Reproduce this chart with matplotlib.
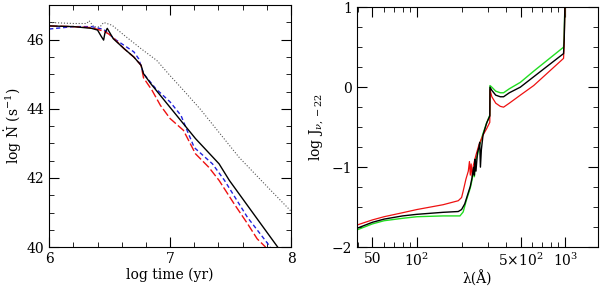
import numpy as np
import matplotlib
matplotlib.use("Agg")
import matplotlib.pyplot as plt
from matplotlib.ticker import MultipleLocator, FixedLocator, NullFormatter

plt.rcParams['font.family'] = ['DejaVu Serif']
plt.rcParams['mathtext.fontset'] = 'dejavuserif'

# left panel: log N-dot vs log time
t_dot = [6.0, 6.2, 6.31, 6.33, 6.37, 6.42, 6.45, 6.52, 6.62, 6.76, 6.89, 7.0, 7.11, 7.25, 7.57, 7.8, 8.0]
n_dot = [46.5, 46.47, 46.47, 46.55, 46.37, 46.37, 46.5, 46.42, 46.13, 45.74, 45.4, 44.96, 44.54, 43.99,
         42.6, 41.76, 41.04]

t_blk = [6.0, 6.2, 6.35, 6.4, 6.43, 6.45, 6.46, 6.48, 6.53, 6.62, 6.70, 6.76, 6.78, 6.84,
         7.21, 7.405, 7.49, 7.67, 7.89]
n_blk = [46.4, 46.38, 46.33, 46.28, 46.1, 45.99, 46.18, 46.33, 46.03, 45.74, 45.5, 45.26, 45.02, 44.73,
         43.14, 42.41, 41.93, 41.06, 40.0]

t_blu = [6.0, 6.2, 6.35, 6.45, 6.55, 6.64, 6.70, 6.74, 6.78, 6.88, 7.0, 7.09, 7.14, 7.2, 7.35, 7.45,
         7.64, 7.83]
n_blu = [46.31, 46.38, 46.38, 46.3, 46.0, 45.79, 45.65, 45.45, 45.02, 44.59, 44.2, 43.81, 43.38, 42.88,
         42.41, 41.93, 40.86, 40.0]

t_red = [6.0, 6.2, 6.35, 6.45, 6.5, 6.56, 6.62, 6.7, 6.76, 6.78, 6.85, 6.92, 7.0, 7.11, 7.21, 7.32, 7.405,
         7.53, 7.64, 7.72, 7.79]
n_red = [46.4, 46.38, 46.35, 46.25, 46.15, 45.95, 45.74, 45.5, 45.26, 44.9, 44.54, 44.1, 43.72, 43.38,
         42.7, 42.31, 41.93, 41.25, 40.68, 40.24, 40.0]

# right panel: log J_nu vs wavelength (Angstrom)
lam_blk = [40, 50, 60, 80, 100, 150, 190, 200, 210, 229, 236, 241, 244, 247, 250, 256, 262, 265, 268,
           272, 279, 295, 310, 311, 320, 340, 365, 384, 420, 498, 613, 975, 985, 1000]
j_blk = [-1.76, -1.69, -1.65, -1.61, -1.59, -1.565, -1.555, -1.53, -1.46, -1.24, -1.12, -1.0, -1.1, -0.9,
         -1.05, -0.82, -0.75, -0.69, -1.0, -0.78, -0.6, -0.45, -0.36, 0.0,
         -0.04, -0.1, -0.12, -0.12, -0.07, 0.0, 0.13, 0.42, 0.6, 1.2]

lam_grn = [40, 50, 60, 80, 100, 150, 195, 205, 215, 229, 236, 240, 244, 248, 256, 265, 279, 295, 310,
           311, 320, 340, 365, 384, 420, 498, 613, 975, 985, 1000]
j_grn = [-1.78, -1.71, -1.67, -1.64, -1.62, -1.61, -1.61, -1.56, -1.42, -1.26, -1.15, -1.05, -1.12, -0.92,
         -0.85, -0.72, -0.58, -0.45, -0.35,
         0.02, 0.0, -0.05, -0.07, -0.07, -0.02, 0.06, 0.2, 0.5, 0.65, 1.2]

lam_red = [40, 50, 60, 80, 100, 150, 190, 200, 205, 214, 222, 226, 229, 232, 236, 240, 250, 262, 279,
           295, 310, 311, 320, 340, 365, 384, 420, 498, 613, 975, 985, 1000]
j_red = [-1.72, -1.66, -1.62, -1.57, -1.53, -1.47, -1.42, -1.38, -1.3, -1.15, -1.05, -0.93, -1.1, -0.96,
         -1.12, -0.98, -0.85, -0.72, -0.6, -0.52, -0.44,
         -0.03, -0.12, -0.2, -0.24, -0.25, -0.2, -0.1, 0.02, 0.36, 0.55, 1.2]

fig = plt.figure(figsize=(6, 2.88), dpi=100)
ax1 = fig.add_axes([0.082, 0.142, 0.403, 0.840])
ax2 = fig.add_axes([0.595, 0.142, 0.402, 0.833])

ax1.plot(t_dot, n_dot, color='#555555', ls=':', lw=0.8)
ax1.plot(t_blu, n_blu, color='#2222dd', ls=(0, (3, 2)), lw=1.0)
ax1.plot(t_red, n_red, color='#ee1111', ls=(0, (6, 2)), lw=1.0)
ax1.plot(t_blk, n_blk, color='black', lw=1.0)
ax1.set_xlim(6, 8)
ax1.set_ylim(40, 47)
ax1.xaxis.set_major_locator(MultipleLocator(1))
ax1.xaxis.set_minor_locator(MultipleLocator(0.2))
ax1.yaxis.set_major_locator(MultipleLocator(2))
ax1.yaxis.set_minor_locator(MultipleLocator(0.5))
ax1.set_xlabel('log time (yr)', fontsize=10, labelpad=1)
ax1.set_ylabel(r'log $\dot{\rm N}$ (s$^{-1}$)', fontsize=10, labelpad=2)

ax2.plot(lam_grn, j_grn, color='#22dd22', lw=1.0)
ax2.plot(lam_red, j_red, color='#ee1111', lw=0.9)
ax2.plot(lam_blk, j_blk, color='black', lw=1.0)
ax2.set_xscale('log')
ax2.set_xlim(39.4, 1670)
ax2.set_ylim(-2, 1)
ax2.xaxis.set_major_locator(FixedLocator([50, 100, 500, 1000]))
ax2.set_xticklabels(['50', r'10$^2$', r'5$\times$10$^2$', r'10$^3$'])
ax2.xaxis.set_minor_locator(FixedLocator([40, 60, 70, 80, 90, 200, 300, 400, 600, 700, 800, 900, 2000]))
ax2.xaxis.set_minor_formatter(NullFormatter())
ax2.yaxis.set_major_locator(MultipleLocator(1))
ax2.yaxis.set_minor_locator(MultipleLocator(0.25))
ax2.set_xlabel('λ(Å)', fontsize=10, labelpad=1)
ax2.set_ylabel(r'log J$_{\nu,-22}$', fontsize=10, labelpad=4)

for ax in (ax1, ax2):
    ax.tick_params(which='both', direction='in', top=True, right=True, labelsize=10)
    ax.tick_params(which='major', length=7, width=0.8)
    ax.tick_params(which='minor', length=3.5, width=0.6)
    for s in ax.spines.values():
        s.set_linewidth(0.8)

fig.savefig('out.png', dpi=100)
